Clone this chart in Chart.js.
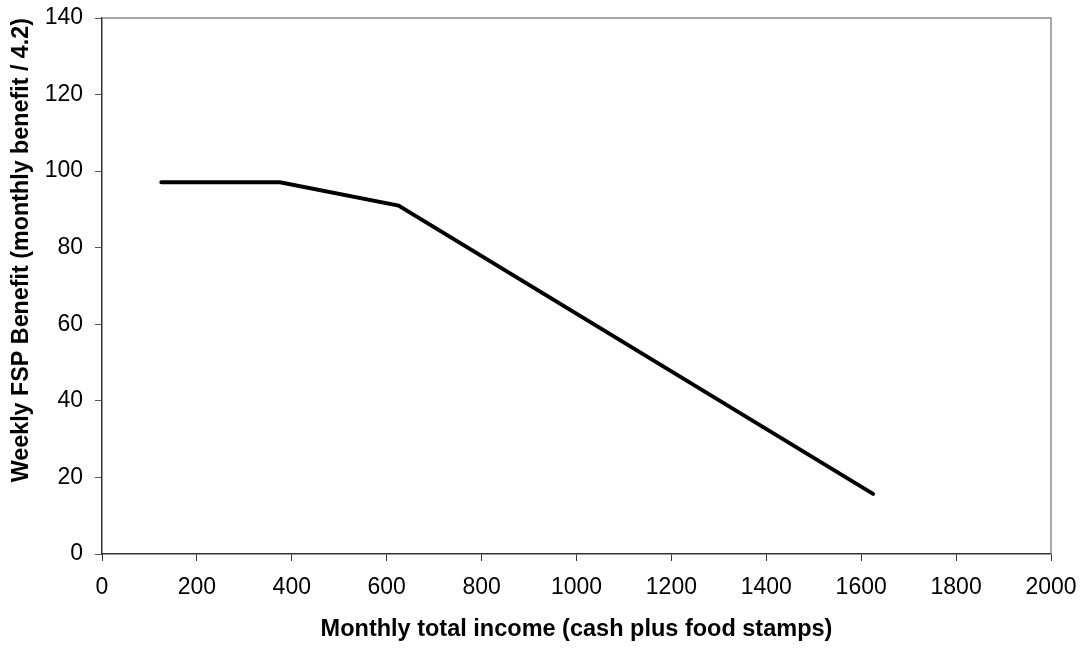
<!DOCTYPE html>
<html>
<head>
<meta charset="utf-8">
<script src="https://cdn.jsdelivr.net/npm/chart.js@4.4.1/dist/chart.umd.min.js"></script>
<style>
  html, body { margin: 0; padding: 0; background: #fff; }
  #wrap { width: 1086px; height: 648px; }
</style>
</head>
<body>
<div id="wrap"><canvas id="c" width="1086" height="648"></canvas></div>
<script>
  // monthly total income (x) vs weekly FSP benefit (y)
  const incomeX = [125, 375, 625, 1625];
  const weeklyBenefit = [97.1, 97.1, 91.0, 15.7];

  const xTitle = 'Monthly total income (cash plus food stamps)';
  const yTitle = 'Weekly FSP Benefit (monthly benefit / 4.2)';

  const FONT = '"Liberation Sans", Arial, sans-serif';

  // top + right frame lines (gray), like the original plot box
  const frame = {
    id: 'frame',
    afterDraw(chart) {
      const a = chart.chartArea, ctx = chart.ctx;
      ctx.save();
      ctx.strokeStyle = '#8c8c8c';
      ctx.lineWidth = 1.5;
      ctx.beginPath();
      ctx.moveTo(a.left, a.top);
      ctx.lineTo(a.right, a.top);
      ctx.lineTo(a.right, a.bottom);
      ctx.stroke();
      ctx.restore();
    }
  };

  new Chart(document.getElementById('c'), {
    type: 'line',
    data: {
      datasets: [{
        data: incomeX.map((x, i) => ({ x, y: weeklyBenefit[i] })),
        borderColor: '#000',
        borderWidth: 4,
        borderCapStyle: 'round',
        borderJoinStyle: 'miter',
        pointRadius: 0,
        tension: 0,
        fill: false
      }]
    },
    options: {
      responsive: false,
      animation: false,
      layout: { padding: { top: 18, right: 35, left: 4, bottom: 0 } },
      plugins: { legend: { display: false }, tooltip: { enabled: false } },
      scales: {
        x: {
          type: 'linear',
          min: 0, max: 2000,
          // fixed box so the plot area lands where the original one is
          afterFit(s) { s.height = 94; s.paddingLeft = 0; s.paddingRight = 0; },
          ticks: { stepSize: 200, color: '#000', padding: 13, maxRotation: 0,
                   callback: v => String(v),
                   font: { family: FONT, size: 23 } },
          grid: { drawOnChartArea: false, drawTicks: true, tickLength: 7, color: '#333' },
          border: { color: '#333', width: 1.5 },
          title: { display: true, text: xTitle, color: '#000', padding: { top: 4, bottom: 4 },
                   font: { family: FONT, size: 23.5, weight: 'bold' } }
        },
        y: {
          min: 0, max: 140,
          afterFit(s) { s.width = 98; s.paddingTop = 0; s.paddingBottom = 0; },
          ticks: { stepSize: 20, color: '#000', padding: 12,
                   callback: v => String(v),
                   font: { family: FONT, size: 23 } },
          grid: { drawOnChartArea: false, drawTicks: true, tickLength: 7, color: '#555' },
          border: { color: '#333', width: 1.5 },
          title: { display: true, text: yTitle, color: '#000', align: 'end',
                   padding: { top: 4, bottom: 4 },
                   font: { family: FONT, size: 23.3, weight: 'bold' } }
        }
      }
    },
    plugins: [frame]
  });
</script>
</body>
</html>
